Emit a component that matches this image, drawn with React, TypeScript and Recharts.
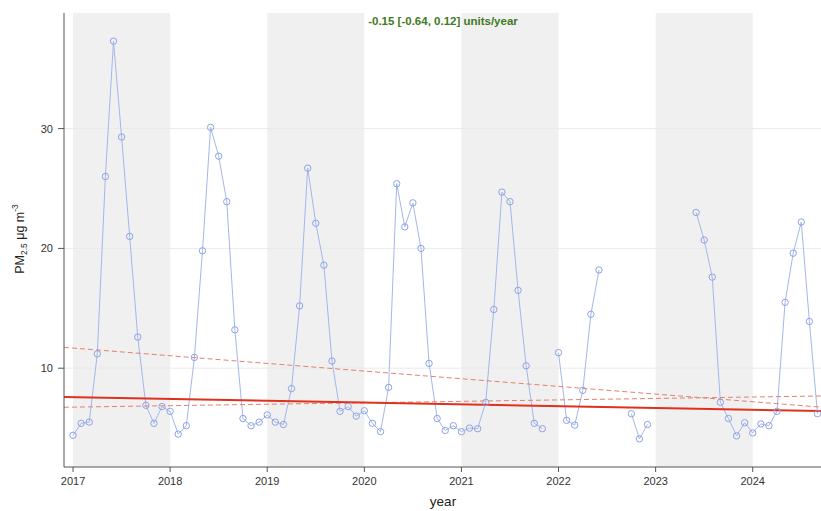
import {
  ComposedChart,
  Line,
  ReferenceArea,
  ReferenceLine,
  XAxis,
  YAxis,
} from "recharts";

// monthly mean PM2.5, null = no data for that month
const months: string[] = [
  "2017-01", "2017-02", "2017-03", "2017-04", "2017-05", "2017-06", "2017-07", "2017-08", "2017-09", "2017-10", "2017-11", "2017-12",
  "2018-01", "2018-02", "2018-03", "2018-04", "2018-05", "2018-06", "2018-07", "2018-08", "2018-09", "2018-10", "2018-11", "2018-12",
  "2019-01", "2019-02", "2019-03", "2019-04", "2019-05", "2019-06", "2019-07", "2019-08", "2019-09", "2019-10", "2019-11", "2019-12",
  "2020-01", "2020-02", "2020-03", "2020-04", "2020-05", "2020-06", "2020-07", "2020-08", "2020-09", "2020-10", "2020-11", "2020-12",
  "2021-01", "2021-02", "2021-03", "2021-04", "2021-05", "2021-06", "2021-07", "2021-08", "2021-09", "2021-10", "2021-11", "2021-12",
  "2022-01", "2022-02", "2022-03", "2022-04", "2022-05", "2022-06", "2022-07", "2022-08", "2022-09", "2022-10", "2022-11", "2022-12",
  "2023-01", "2023-02", "2023-03", "2023-04", "2023-05", "2023-06", "2023-07", "2023-08", "2023-09", "2023-10", "2023-11", "2023-12",
  "2024-01", "2024-02", "2024-03", "2024-04", "2024-05", "2024-06", "2024-07", "2024-08", "2024-09",
];

const pm25: (number | null)[] = [
  4.4, 5.4, 5.5, 11.2, 26.0, 37.3, 29.3, 21.0, 12.6, 6.9, 5.4, 6.8,
  6.4, 4.5, 5.2, 10.9, 19.8, 30.1, 27.7, 23.9, 13.2, 5.8, 5.2, 5.5,
  6.1, 5.5, 5.3, 8.3, 15.2, 26.7, 22.1, 18.6, 10.6, 6.4, 6.8, 6.0,
  6.45, 5.4, 4.7, 8.4, 25.4, 21.8, 23.8, 20.0, 10.4, 5.8, 4.8, 5.2,
  4.7, 5.0, 4.95, 7.15, 14.9, 24.7, 23.9, 16.5, 10.2, 5.4, 4.95, null,
  11.3, 5.65, 5.25, 8.15, 14.5, 18.2, null, null, null, 6.2, 4.1, 5.3,
  null, null, null, null, null, 23.0, 20.7, 17.6, 7.15, 5.8, 4.35, 5.45,
  4.6, 5.35, 5.2, 6.4, 15.5, 19.6, 22.2, 13.9, 6.2,
];

// Theil-Sen slope with 95% interval, drawn across the whole panel
const trendX = [2016.907, 2024.703];
const trendMid = [7.6, 6.43];
const trendLower = [6.74, 7.68];
const trendUpper = [11.74, 6.75];

const yearTicks = [2017, 2018, 2019, 2020, 2021, 2022, 2023, 2024];
const shadedYears = [2017, 2019, 2021, 2023];
const yTicks = [10, 20, 30];

const data = months.map((m, i) => ({
  x: Number(m.slice(0, 4)) + (Number(m.slice(5, 7)) - 1) / 12,
  pm25: pm25[i],
}));

const trend = trendX.map((x, i) => ({
  x,
  mid: trendMid[i],
  lower: trendLower[i],
  upper: trendUpper[i],
}));

const FONT = '"Liberation Sans", Arial, sans-serif';
const AXIS = "#555";

export default function App() {
  return (
    <div
      style={{
        position: "absolute",
        left: 0,
        top: 0,
        width: 821,
        height: 511,
        fontFamily: FONT,
        background: "#fff",
      }}
    >
      <ComposedChart
        width={821}
        height={511}
        data={data}
        margin={{ top: 13, right: 0, left: 0, bottom: 0 }}
      >
        <XAxis
          xAxisId="b"
          dataKey="x"
          type="number"
          domain={[2016.907, 2024.703]}
          ticks={yearTicks}
          allowDataOverflow
          height={44}
          tickSize={5}
          tickMargin={5}
          stroke={AXIS}
          tick={{ fontSize: 11, fill: "#333", fontFamily: FONT }}
          tickLine={{ stroke: AXIS }}
        />
        <XAxis
          xAxisId="t"
          dataKey="x"
          type="number"
          orientation="top"
          domain={[2016.907, 2024.703]}
          ticks={yearTicks}
          allowDataOverflow
          height={0}
          tickSize={5}
          stroke={AXIS}
          tickFormatter={() => ""}
          tickLine={{ stroke: AXIS }}
        />
        <YAxis
          type="number"
          domain={[1.753, 39.65]}
          ticks={yTicks}
          allowDataOverflow
          width={64}
          tickSize={6}
          tickMargin={5}
          stroke={AXIS}
          tick={{ fontSize: 11, fill: "#333", fontFamily: FONT }}
          tickLine={{ stroke: AXIS }}
        />
        {shadedYears.map((y) => (
          <ReferenceArea
            key={y}
            xAxisId="b"
            x1={y}
            x2={y + 1}
            fill="#f0f0f0"
            fillOpacity={1}
            stroke="none"
            ifOverflow="hidden"
          />
        ))}
        {yTicks.map((v) => (
          <ReferenceLine key={v} xAxisId="b" y={v} stroke="#e9e9e9" strokeWidth={1} />
        ))}
        <Line
          xAxisId="b"
          dataKey="pm25"
          type="linear"
          stroke="#a5b6ea"
          strokeWidth={1}
          connectNulls={false}
          dot={{ r: 3.2, stroke: "#8ea3e6", strokeWidth: 1, fill: "none" }}
          activeDot={false}
          isAnimationActive={false}
        />
        <Line
          xAxisId="b"
          data={trend}
          dataKey="upper"
          type="linear"
          stroke="#e2826f"
          strokeWidth={1}
          strokeDasharray="5 3"
          dot={false}
          activeDot={false}
          isAnimationActive={false}
        />
        <Line
          xAxisId="b"
          data={trend}
          dataKey="lower"
          type="linear"
          stroke="#e2826f"
          strokeWidth={1}
          strokeDasharray="5 3"
          dot={false}
          activeDot={false}
          isAnimationActive={false}
        />
        <Line
          xAxisId="b"
          data={trend}
          dataKey="mid"
          type="linear"
          stroke="#e0301e"
          strokeWidth={2}
          dot={false}
          activeDot={false}
          isAnimationActive={false}
        />
      </ComposedChart>

      <div
        style={{
          position: "absolute",
          left: 343,
          width: 200,
          top: 15,
          textAlign: "center",
          fontSize: 11.5,
          fontWeight: "bold",
          color: "#3f7a22",
          whiteSpace: "nowrap",
        }}
      >
        -0.15 [-0.64, 0.12] units/year
      </div>

      <div
        style={{
          position: "absolute",
          left: 393,
          width: 100,
          top: 494,
          textAlign: "center",
          fontSize: 13.5,
          color: "#222",
        }}
      >
        year
      </div>

      <div
        style={{
          position: "absolute",
          left: 19,
          top: 239,
          transform: "translate(-50%, -50%) rotate(-90deg)",
          fontSize: 12.5,
          color: "#222",
          whiteSpace: "nowrap",
        }}
      >
        PM
        <span style={{ fontSize: 8.5, verticalAlign: -3 }}>2.5</span> μg m
        <span style={{ fontSize: 8.5, verticalAlign: 6 }}>-3</span>
      </div>
    </div>
  );
}
